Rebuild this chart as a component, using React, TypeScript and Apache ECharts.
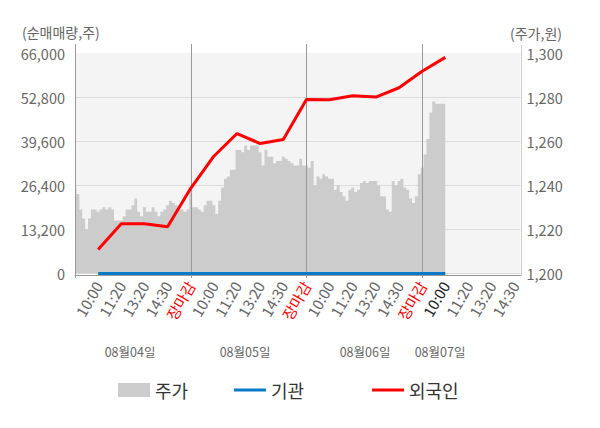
import React, { useEffect, useRef } from "react";
import * as echarts from "echarts";

// ---- data ----
const dayNames = ["08월04일", "08월05일", "08월06일", "08월07일"];
const tickLabels = ["10:00", "11:20", "13:20", "14:30", "장마감"];
const STEP = 8; // categories between two tick labels
const PER_DAY = STEP * tickLabels.length; // 40
const TOTAL_CATS = 155;

// 주가 (right axis, 원)
const price = [
  1239, 1236, 1229, 1225, 1220, 1225, 1229, 1229, 1228, 1229,
  1230, 1229, 1230, 1229, 1224, 1224, 1224, 1226, 1229, 1229,
  1231, 1234, 1228, 1226, 1230, 1228, 1228, 1230, 1228, 1226,
  1228, 1229, 1231, 1233, 1232, 1231, 1229, 1229, 1228, 1229,
  1238, 1230, 1230, 1229, 1228, 1231, 1233, 1233, 1231, 1227,
  1233, 1239, 1243, 1244, 1247, 1247, 1256, 1256, 1255, 1258,
  1256, 1258, 1258, 1258, 1255, 1249, 1256, 1253, 1253, 1250,
  1251, 1251, 1253, 1252, 1251, 1250, 1249, 1249, 1252, 1249,
  1249, 1248, 1251, 1240, 1244, 1243, 1245, 1244, 1243, 1243,
  1238, 1240, 1237, 1235, 1233, 1238, 1239, 1237, 1238, 1241,
  1242, 1241, 1242, 1242, 1242, 1240, 1235, 1235, 1229, 1228,
  1242, 1240, 1242, 1243, 1239, 1238, 1234, 1232, 1235, 1245,
  1248, 1254, 1261, 1273, 1278, 1277, 1277, 1277, 1277,
];

// 외국인 / 기관 cumulative net volume (left axis, 주) at each tick label time
const foreign = [
  7200, 14870, 14870, 13970, 25500, 35100, 41900, 38900,
  40100, 52100, 52000, 53200, 52800, 55600, 60550, 64700,
];
const institution = [0, 0, 0, 0, 0, 0, 0, 0, 0, 0, 0, 0, 0, 0, 0, 0];

const leftTicks = { min: 0, max: 66000, interval: 13200 };
const rightTicks = { min: 1200, max: 1300, interval: 20 };

const FONT = "'Noto Sans CJK KR', 'Noto Sans', sans-serif";

const categories: string[] = [];
for (let i = 0; i < TOTAL_CATS; i++) {
  categories.push(dayNames[Math.floor(i / PER_DAY)] + " #" + (i % PER_DAY));
}

function sparse(vals: number[]) {
  const arr: (number | null)[] = [];
  for (let i = 0; i < TOTAL_CATS; i++) arr.push(null);
  vals.forEach((v, k) => {
    arr[(k + 1) * STEP] = v;
  });
  return arr;
}

export default function App() {
  const ref = useRef<HTMLDivElement>(null);
  useEffect(() => {
    document.body.style.margin = "0";
    const chart = echarts.init(ref.current!, undefined, { renderer: "svg" });
    const option: any = {
      animation: false,
      textStyle: { fontFamily: FONT },
      grid: {
        left: 75,
        right: 79.5,
        top: 53,
        bottom: 154.5,
        show: true,
        backgroundColor: "#f4f4f4",
        borderWidth: 0,
      },
      legend: [
        {
          left: 113,
          top: 376,
          data: ["주가"],
          icon: "rect",
          itemWidth: 32,
          itemHeight: 14,
          itemGap: 8,
          textStyle: { fontSize: 18, color: "#333", fontFamily: FONT },
        },
        {
          left: 229,
          top: 376,
          data: ["기관"],
          icon: "rect",
          itemWidth: 32,
          itemHeight: 3,
          textStyle: { fontSize: 18, color: "#333", fontFamily: FONT },
        },
        {
          left: 367,
          top: 376,
          data: ["외국인"],
          icon: "rect",
          itemWidth: 32,
          itemHeight: 3,
          textStyle: { fontSize: 18, color: "#333", fontFamily: FONT },
        },
      ],
      xAxis: {
        type: "category",
        data: categories,
        boundaryGap: false,
        offset: 2,
        axisLine: { show: true, onZero: false, lineStyle: { color: "#999" } },
        axisTick: { show: false },
        splitLine: { show: false },
        axisLabel: {
          interval: (index: number) => index > 0 && index % STEP === 0,
          rotate: 60,
          margin: 7,
          fontSize: 15,
          color: "#666",
          fontFamily: FONT,
          formatter: (_v: string, index: number) => {
            const t = tickLabels[(index / STEP - 1) % tickLabels.length];
            if (t === "장마감") return "{close|" + t + "}";
            if (Math.floor(index / PER_DAY) === dayNames.length - 1 && index % PER_DAY === STEP)
              return "{now|" + t + "}";
            return t;
          },
          rich: {
            close: { color: "#ff0000", fontSize: 15, fontFamily: FONT },
            now: { color: "#222", fontSize: 15, fontFamily: FONT },
          },
        },
      },
      yAxis: [
        {
          type: "value",
          min: leftTicks.min,
          max: leftTicks.max,
          interval: leftTicks.interval,
          position: "left",
          axisLine: { show: false },
          axisTick: { show: false },
          splitLine: { show: true, showMaxLine: false, lineStyle: { color: "#dcdcdc" } },
          axisLabel: {
            margin: 10,
            fontSize: 14.5,
            color: "#666",
            fontFamily: FONT,
            formatter: (v: number) => v.toLocaleString("en-US"),
          },
        },
        {
          type: "value",
          min: rightTicks.min,
          max: rightTicks.max,
          interval: rightTicks.interval,
          position: "right",
          axisLine: { show: false },
          axisTick: { show: false },
          splitLine: { show: false },
          axisLabel: {
            margin: 6,
            fontSize: 14.5,
            color: "#666",
            fontFamily: FONT,
            formatter: (v: number) => v.toLocaleString("en-US"),
          },
        },
      ],
      series: [
        {
          name: "주가",
          type: "line",
          yAxisIndex: 1,
          data: price,
          symbol: "none",
          step: "middle",
          color: "#cccccc",
          lineStyle: { width: 0, color: "#cccccc" },
          areaStyle: { color: "#cccccc", opacity: 1, origin: "start" },
          z: 2,
        },
        {
          name: "기관",
          type: "line",
          yAxisIndex: 0,
          data: sparse(institution),
          connectNulls: true,
          symbol: "none",
          color: "#0a7ac8",
          lineStyle: { width: 3, color: "#0a7ac8" },
          z: 5,
        },
        {
          name: "외국인",
          type: "line",
          yAxisIndex: 0,
          data: sparse(foreign),
          connectNulls: true,
          symbol: "none",
          color: "#ff0000",
          lineStyle: { width: 3, color: "#ff0000" },
          z: 6,
        },
      ],
    };
    chart.setOption(option);

    const xAt = (i: number) => chart.convertToPixel({ xAxisIndex: 0 }, i) as number;
    const snap = (x: number) => Math.round(x) + 0.5;
    const vLines: any[] = [];
    const leftX = snap(xAt(0));
    vLines.push({
      type: "line",
      z: 3,
      shape: { x1: leftX, y1: 44, x2: leftX, y2: 278 },
      style: { stroke: "#999", lineWidth: 1 },
    });
    for (let d = 1; d < dayNames.length; d++) {
      const x = snap(xAt(d * PER_DAY));
      vLines.push({
        type: "line",
        z: 3,
        shape: { x1: x, y1: 44, x2: x, y2: 278 },
        style: { stroke: "#999", lineWidth: 1 },
      });
    }
    const rightX = snap(xAt(TOTAL_CATS - 1));
    vLines.push({
      type: "line",
      z: 3,
      shape: { x1: rightX, y1: 45, x2: rightX, y2: 276 },
      style: { stroke: "#d0d0d0", lineWidth: 1 },
    });
    const dayLabelX = [130, 245, 365, 440];
    const dayTexts = dayNames.map((n, k) => ({
      type: "text",
      z: 3,
      x: dayLabelX[k],
      y: 351,
      style: {
        text: n,
        fill: "#666",
        fontSize: 12.5,
        fontFamily: FONT,
        align: "center",
        verticalAlign: "middle",
      },
    }));
    chart.setOption({
      graphic: [
        {
          type: "text",
          x: 22,
          y: 32,
          style: {
            text: "(순매매량,주)",
            fill: "#666",
            fontSize: 14,
            fontFamily: FONT,
            align: "left",
            verticalAlign: "middle",
          },
        },
        {
          type: "text",
          x: 562,
          y: 33,
          style: {
            text: "(주가,원)",
            fill: "#666",
            fontSize: 14,
            fontFamily: FONT,
            align: "right",
            verticalAlign: "middle",
          },
        },
        ...vLines,
        ...dayTexts,
      ],
    });
    return () => chart.dispose();
  }, []);
  return <div ref={ref} style={{ width: 600, height: 428 }} />;
}
